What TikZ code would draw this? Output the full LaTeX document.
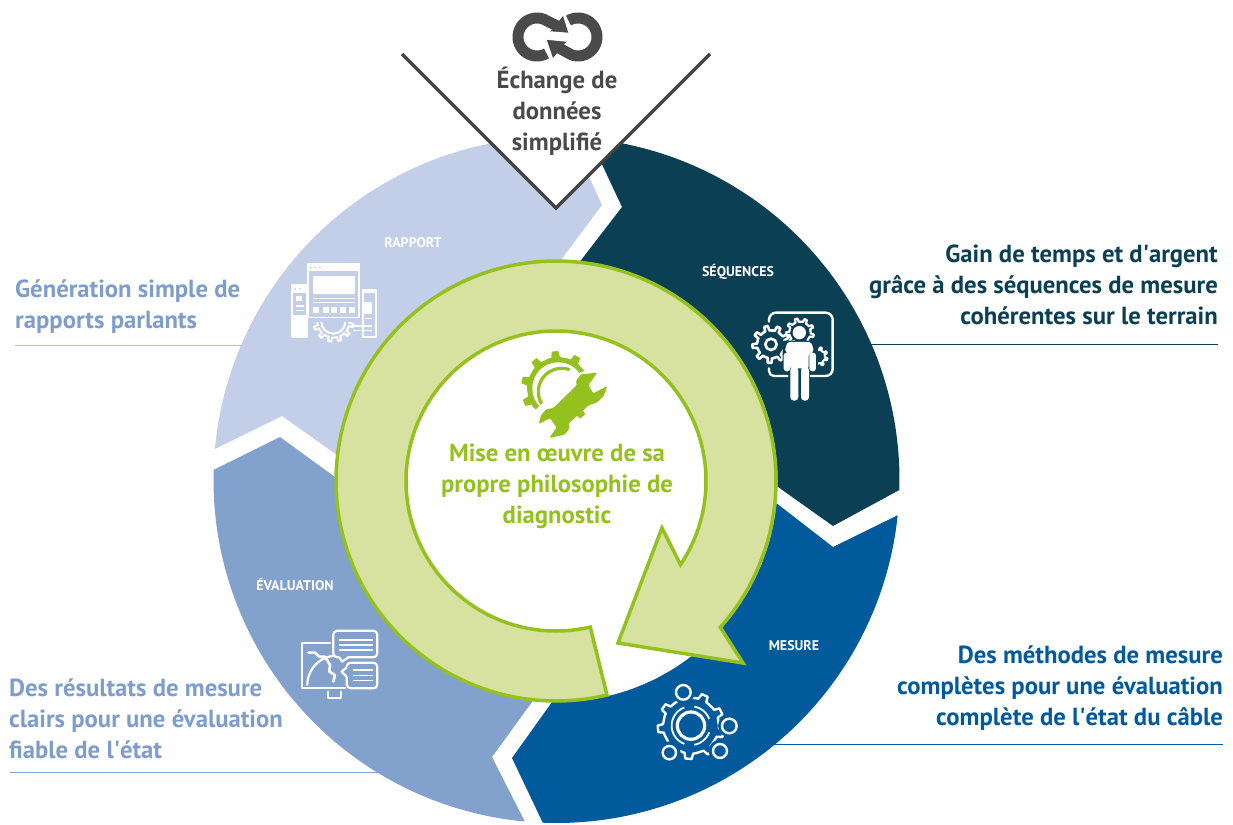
\documentclass[tikz,border=0pt]{standalone}
\usepackage{fontspec}
\setmainfont{PT Sans}
\definecolor{crap}{HTML}{C3CFE9}
\definecolor{ceva}{HTML}{82A1CD}
\definecolor{cseq}{HTML}{0B3F54}
\definecolor{cmes}{HTML}{005A9C}
\definecolor{cring}{HTML}{D7E1A0}
\definecolor{cgreen}{HTML}{95C11F}
\definecolor{cgray}{HTML}{4A4A4A}
\definecolor{ctxt}{HTML}{7F9DCB}
\newcommand\gearpt[4]{({#1+#3*cos(#4)},{#2+#3*sin(#4)})}
\newcommand\gear[6][]{\path[#1] \gearpt{#2}{#3}{#5}{0}
  \foreach \k in {1,...,#6}{
   -- \gearpt{#2}{#3}{#5}{(\k-1+.14)*360/#6}
   -- \gearpt{#2}{#3}{#4}{(\k-1+.22)*360/#6}
   -- \gearpt{#2}{#3}{#4}{(\k-1+.50)*360/#6}
   -- \gearpt{#2}{#3}{#5}{(\k-1+.58)*360/#6}
   -- \gearpt{#2}{#3}{#5}{(\k)*360/#6}
  } -- cycle;}
\newcommand\apos{\textquotesingle}
\tikzset{
  big/.style={font=\fontsize{24.7}{31}\selectfont\bfseries,inner sep=0pt},
  small/.style={font=\fontsize{14}{16}\selectfont\bfseries,text=white,inner sep=0pt},
  rule/.style={line width=0.9pt},
  ic/.style={draw=white,line cap=round,line join=round},
}
\begin{document}
\begin{tikzpicture}[x=1pt,y=-1pt]
\useasboundingbox (0,0) rectangle (1233,824);
\fill[white] (0,0) rectangle (1233,824);
% connectors to the disc
\coordinate (ra) at (15,345); \coordinate (rb) at (245,345);
\coordinate (sa) at (1218,344); \coordinate (sb) at (868,344);
\coordinate (ma) at (1223,744); \coordinate (mb) at (772,744);
\coordinate (ea) at (10,772); \coordinate (eb) at (378,772);
\draw[rule,color=crap!70!ceva] (ra) -- (rb);
\draw[rule,color=cseq] (sa) -- (sb);
\draw[rule,color=cmes] (ma) -- (mb);
\draw[rule,color=ceva] (ea) -- (eb);
\clip (0,0) rectangle (1233,824);
% segments
\coordinate (c) at (556.5,480);
\fill[crap] plot[domain=185.2:272.4,samples=120] ({556.5+343*cos(\x)},{480+343*sin(\x)})
  -- (602,205) -- (552,272) -- (c) -- (337,455) -- (282,416) -- cycle;
\fill[cseq] plot[domain=-84.4:1.67,samples=120] ({556.5+343*cos(\x)},{480+343*sin(\x)})
  -- (833,526) -- (740,460) -- (c) -- (575,268) -- (622,207) -- cycle;
\fill[cmes] plot[domain=5.9:92.3,samples=120] ({556.5+343*cos(\x)},{480+343*sin(\x)})
  -- (512,758) -- (552,702) -- (c) -- (740,475) -- (833,547) -- cycle;
\fill[ceva] plot[domain=95.3:181.7,samples=120] ({556.5+343*cos(\x)},{480+343*sin(\x)})
  -- (280,437) -- (335,477) -- (c) -- (532,702) -- (492,757) -- cycle;
% white disc
\fill[white] (556.5,481) circle[radius=221];
% ring arrow
\path[fill=cring,draw=cgreen,line width=3.5pt,line join=miter,miter limit=8]
  plot[domain=76.6:401.7,samples=260] ({556+220*cos(\x)},{481+220*sin(\x)})
  -- (743,663) -- (618,643) -- (662,528)
  -- plot[domain=393.9:76.8,samples=220] ({556+150*cos(\x)},{481+150*sin(\x)}) -- cycle;
% chevron
\path[fill=white,draw=cgray!90!black,line width=3.5pt] (402,54) -- (556,208) -- (710,54);
% loop icon
\draw[cgray,line width=11pt,line join=round] plot[domain=60:290,samples=50] ({537+19*cos(\x)},{37+19*sin(\x)}) -- (557,26);
\draw[cgray,line width=11pt,line join=round] plot[domain=240:470,samples=50] ({578+19*cos(\x)},{37+19*sin(\x)}) -- (559,48);
\fill[cgray] (563,16) -- (568.5,33.5) -- (550,32) -- cycle;
\fill[cgray] (546.5,39) -- (567,41) -- (553,58) -- cycle;
\draw[white,line width=1.5pt] (550,32) -- (568.5,33.5) (546.5,39) -- (567,41);
% wrench icon
\begin{scope}[shift={(500,340)},x=0.3333pt,y=-0.3333pt]
\gear[fill=cgreen]{175}{145}{112}{94}{10}
\fill[white] (175,145) circle[radius=78];
\draw[cgreen,line width=3.2pt] plot[domain=70:290,samples=50] ({185+70*cos(\x)},{155+70*sin(\x)});
\fill[white] (115,300) -- (345,150) -- (290,75) -- (215,110) -- (100,215) -- cycle;
\fill[cgreen,rounded corners=1.2pt] (228,122) -- (243,103) -- (292,98) -- (265,135) -- (280,160) -- (322,138) -- (312,167) -- (292,187) -- (266,196)
  -- (206,250) -- (209,264) -- (194,284) -- (148,294) -- (170,262) -- (150,235) -- (116,252)
  -- (123,226) -- (138,208) -- (160,204) -- (230,136) -- cycle;
\end{scope}
% rapport icon
\begin{scope}[shift={(270,220)},x=0.3333pt,y=-0.3333pt]
\gear[draw=white,line width=2pt,fill=crap]{190}{305}{60}{48}{12}
\draw[white,line width=2pt] (190,305) circle[radius=36];
\fill[crap] (100,200) rectangle (280,305);
\draw[ic,line width=2pt,fill=crap] (65,195) rectangle (112,350);
\draw[ic,line width=2pt,fill=crap] (278,210) rectangle (318,350);
\fill[white] (65,195) rectangle (112,218);
\fill[white] (278,210) rectangle (318,218);
\fill[white] (78,228) rectangle (96,244);
\fill[white] (280,245) rectangle (305,282);
\draw[white,line width=1.3pt] (78,258)--(102,258) (78,272)--(102,272) (250,318)--(305,318) (250,332)--(305,332) (285,295)--(305,295);
\fill[white] (65,285) rectangle (112,350);
\fill[white] (112,130) rectangle (270,295);
\fill[crap] (118,152) rectangle (264,290);
\fill[white] (128,167) rectangle (254,222);
\draw[white,line width=1.3pt] (128,236)--(254,236) (128,248)--(254,248);
\foreach \q in {128,158,184,210,236}{\fill[white] (\q,262) rectangle ++(18,17);}
\foreach \q in {122,136,150}{\fill[crap] (\q,143) circle[radius=3];}
\foreach \q in {76,90}{\fill[crap] (\q,207) circle[radius=3];}
\end{scope}
% sequences icon
\begin{scope}[shift={(690,250)},x=0.3333pt,y=-0.3333pt]
\draw[ic,line width=2.4pt,rounded corners=7pt] (237,215) -- (237,188) -- (428,188) -- (428,378) -- (362,378);
\draw[ic,line width=2.4pt,rounded corners=5pt] (237,355) -- (237,378) -- (292,378);
\gear[draw=white,fill=cseq,line width=2.2pt,line join=round]{385}{320}{28}{20}{8}
\gear[draw=white,fill=cseq,line width=2.2pt,line join=round]{330}{247}{42}{32}{9}
\gear[draw=white,fill=cseq,line width=2.6pt,line join=round]{243}{283}{56}{42}{9}
\draw[white,line width=2.6pt] (243,283) circle[radius=17];
\fill[cseq] (328,248) circle[radius=26];
\fill[white] (328,248) circle[radius=20];
\fill[cseq,rounded corners=2pt] (278,272) rectangle (384,368);
\fill[white,rounded corners=2pt] (292,276) -- (364,276) -- (372,305) -- (356,312) -- (356,355) -- (300,355) -- (300,312) -- (284,305) -- cycle;
\fill[white,rounded corners=3pt] (281,308) rectangle (301,364);
\fill[white,rounded corners=3pt] (358,308) rectangle (378,364);
\fill[white,rounded corners=3.5pt] (301,350) rectangle (325,452);
\fill[white,rounded corners=3.5pt] (333,350) rectangle (357,452);
\end{scope}
% mesure icon
\begin{scope}[shift={(620,640)},x=0.3333pt,y=-0.3333pt]
\gear[draw=white,line width=2.4pt,line join=round]{213}{257}{100}{84}{9}
\fill[cmes] (190,157) circle[radius=34];
\fill[cmes] (328,258) circle[radius=34];
\fill[cmes] (148,338) circle[radius=34];
\fill[cmes] (300,333) circle[radius=34];
\draw[white,line width=3.2pt] (213,257) circle[radius=41];
\draw[white,line width=1.8pt] plot[domain=110:250,samples=30] ({213+58*cos(\x)},{257+58*sin(\x)});
\draw[white,line width=1.8pt] plot[domain=20:80,samples=20] ({213+58*cos(\x)},{257+58*sin(\x)});
\draw[white,line width=1.8pt] plot[domain=280:340,samples=20] ({213+58*cos(\x)},{257+58*sin(\x)});
\foreach \a/\b/\r in {190/157/22,328/258/22,148/338/20,300/333/21}{\draw[white,line width=2.4pt] (\a,\b) circle[radius=\r];}
\end{scope}
% evaluation icon
\begin{scope}[shift={(280,610)},x=0.3333pt,y=-0.3333pt]
\draw[ic,line width=2.2pt] (150,100) -- (65,100) -- (65,235) -- (195,235);
\draw[ic,line width=2.2pt] (143,245) -- (143,265) -- (183,265) -- (183,245);
\draw[ic,line width=2.2pt] plot[domain=180:270,samples=20] ({170+88*cos(\x)},{225+88*sin(\x)});
\draw[ic,line width=2.6pt] (85,128) -- (105,128) -- (118,140) -- (135,140) -- (150,165) -- (148,185) -- (165,195) -- (160,215);
\draw[ic,line width=2.2pt,rounded corners=4pt,fill=ceva] (160,62) rectangle (292,142);
\fill[ceva] (177,138) rectangle (205,146);
\draw[ic,line width=2.2pt] (178,142) -- (186,155) -- (205,142);
\draw[white,line width=1.5pt] (176,90) -- (278,90) (176,105) -- (278,105) (176,120) -- (278,120);
\draw[ic,line width=2.2pt,rounded corners=4pt,fill=ceva] (200,158) rectangle (292,235);
\fill[ceva] (196,172) rectangle (204,200);
\draw[ic,line width=2.2pt] (200,172) -- (185,185) -- (200,200);
\draw[white,line width=1.5pt] (218,180) -- (278,180) (218,196) -- (278,196) (218,212) -- (278,212);
\end{scope}
% labels
\node[small] (lrap) at (413,243) {RAPPORT};
\node[small] (lseq) at (738,271.5) {SÉQUENCES};
\node[small] (leva) at (295,585) {ÉVALUATION};
\node[small] (lmes) at (794,646) {MESURE};
\node[big,text=cgray,align=center] (ttop) at (557,111) {Échange de\\données\\simplifié};
\node[big,text=cgreen,align=center] (tmid) at (557,486) {Mise en œuvre de sa\\propre philosophie de\\diagnostic};
\node[big,text=ctxt,align=left,anchor=west] (trap) at (15,306.5) {Génération simple de\\rapports parlants};
\node[big,text=cseq,align=right,anchor=east] (tseq) at (1218,285) {Gain de temps et d\apos argent\\grâce à des séquences de mesure\\cohérentes sur le terrain};
\node[big,text=cmes,align=right,anchor=east] (tmes) at (1223,688) {Des méthodes de mesure\\complètes pour une évaluation\\complète de l\apos état du câble};
\node[big,text=ctxt,align=left,anchor=west] (teva) at (9,719) {Des résultats de mesure\\clairs pour une évaluation\\fiable de l\apos état};
\end{tikzpicture}
\end{document}
